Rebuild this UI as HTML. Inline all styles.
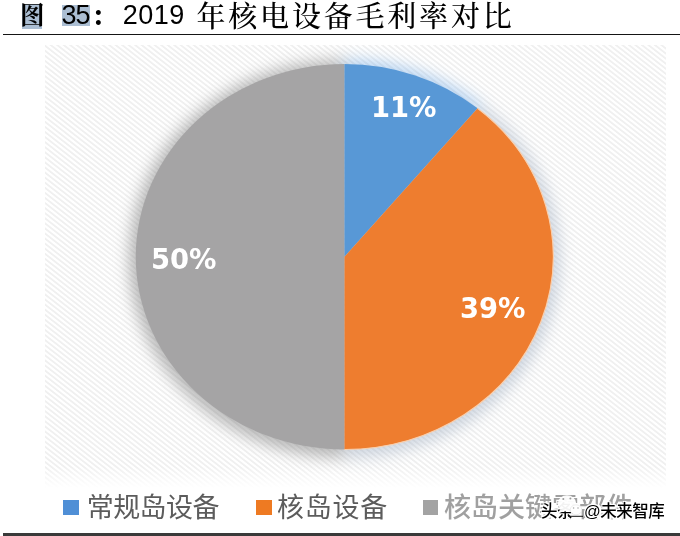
<!DOCTYPE html>
<html lang="zh-CN">
<head>
<meta charset="utf-8">
<title>图 35：2019 年核电设备毛利率对比</title>
<style>
html,body{margin:0;padding:0;background:#fff;}
body{width:680px;height:536px;position:relative;overflow:hidden;font-family:"Liberation Sans","Noto Sans CJK SC",sans-serif;}
.abs{position:absolute;white-space:nowrap;}
#title{left:0;top:0;height:34px;width:680px;}
#title span{position:absolute;top:-3px;line-height:36px;color:#000;white-space:nowrap;}
.kai{font-family:"Liberation Serif","Noto Serif CJK SC",serif;font-size:29px;font-weight:500;letter-spacing:2.8px;}
.num{font-family:"Liberation Sans",sans-serif;font-size:27px;}
.hl{background:#abbed3;}
#rule1{left:3px;top:33.6px;width:677px;height:1.6px;background:#151515;}
#rule2{left:3px;top:533px;width:677px;height:3px;background:#3a3a3a;}
#plot{left:45px;top:45px;width:621px;height:443px;
 background:
  linear-gradient(to bottom,rgba(255,255,255,0) 0,rgba(255,255,255,0) 422px,rgba(255,255,255,1) 443px),
  repeating-linear-gradient(38deg,#f0f0f0 0,#f0f0f0 1.1px,#fff 1.9px,#fff 3.3px,#f0f0f0 4px);}
#pie{left:0;top:0;}
.pct{font-family:"DejaVu Sans","Liberation Sans",sans-serif;font-weight:bold;font-size:28.5px;color:#fff;line-height:30px;transform-origin:0 0;transform:scaleX(.96);}
.leg{font-family:"Liberation Sans","Noto Sans CJK SC",sans-serif;font-size:27px;line-height:30px;color:#5c5c5c;top:493.3px;}
.sq{position:absolute;top:500px;height:14.5px;width:16px;}
#wm{left:541px;top:499px;font-family:"Liberation Sans","Noto Sans CJK SC",sans-serif;font-size:16.5px;line-height:24px;color:#000;letter-spacing:-.5px;font-weight:500;
 text-shadow:1px 1px 0 #fff,-1px -1px 0 #fff,1px -1px 0 #fff,-1px 1px 0 #fff,0 2px 1px #fff,2px 0 1px #fff,2px 2px 1px #fff,0 0 3px #fff;}
</style>
</head>
<body>
<div id="title" class="abs">
 <span class="kai hl" style="left:22px;top:3.7px;line-height:23.5px;height:25.5px;width:20.4px;letter-spacing:0;font-size:24.5px;font-weight:700;text-indent:-2px;">图</span>
 <span class="num hl" style="left:61.8px;top:4.7px;line-height:21px;height:21.8px;width:28.3px;letter-spacing:-1px;text-indent:-.3px;">35</span>
 <span class="kai" style="left:91.6px;top:-1.3px;font-weight:900;font-size:24px;">：</span>
 <span class="num" style="left:122.8px;top:-3px;letter-spacing:.5px;">2019</span>
 <span class="kai" style="left:196.5px;top:-1.5px;">年核电设备毛利率对比</span>
</div>
<div id="rule1" class="abs"></div>
<div id="plot" class="abs"></div>
<svg id="pie" class="abs" width="680" height="536" viewBox="0 0 680 536">
 <defs>
  <filter id="sh" x="-20%" y="-20%" width="140%" height="140%"><feGaussianBlur stdDeviation="7"/></filter>
  <clipPath id="cp"><rect x="45" y="45" width="621" height="443"/></clipPath>
 </defs>
 <g clip-path="url(#cp)">
 <g transform="translate(344.5 259) scale(1.033) translate(-344.5 -257)">
  <path filter="url(#sh)" opacity=".52" d="M344.5 256.75 L344.5 64 A208.75 192.75 0 0 0 344.5 449.5 Z" fill="#7d7d7d"/>
  <path filter="url(#sh)" opacity=".5" d="M344.5 256.75 L344.5 64 A208.75 192.75 0 0 1 477.6 108.3 Z" fill="#6aa6e4"/>
  <path filter="url(#sh)" opacity=".4" d="M344.5 256.75 L477.6 108.3 A208.75 192.75 0 0 1 344.5 449.5 Z" fill="#8a9db6"/>
 </g>
 </g>
 <path d="M344.5 256.75 L344.5 64 A208.75 192.75 0 0 0 344.5 449.5 Z" fill="#a5a4a5"/>
 <path d="M344.5 256.75 L344.5 64 A208.75 192.75 0 0 1 477.6 108.3 Z" fill="#5898d6"/>
 <path d="M344.5 256.75 L477.6 108.3 A208.75 192.75 0 0 1 344.5 449.5 Z" fill="#ee7d2f"/>
 <path d="M477.6 108.3 A208.75 192.75 0 0 1 344.5 449.5" fill="none" stroke="#f8cfae" stroke-width="1.2"/>
</svg>
<div class="abs pct" style="left:370.5px;top:93px;">11%</div>
<div class="abs pct" style="left:150.5px;top:245px;">50%</div>
<div class="abs pct" style="left:460px;top:293.7px;">39%</div>

<div class="sq" style="left:63px;background:#4f8fd6;"></div>
<div class="abs leg" style="left:86.7px;letter-spacing:-.55px;">常规岛设备</div>
<div class="sq" style="left:256px;background:#ee7a22;"></div>
<div class="abs leg" style="left:277px;letter-spacing:.75px;">核岛设备</div>
<div class="sq" style="left:423px;background:#a3a3a3;width:15px;"></div>
<div class="abs leg" style="left:444px;color:#a0a0a0;font-weight:500;">核岛关键零部件</div>


<div id="wm" class="abs">头条<span style="display:inline-block;width:11px"></span>@未来智库</div>
<svg class="abs" style="left:550px;top:488px;" width="40" height="36" viewBox="550 488 40 36">
 <ellipse cx="567" cy="503.5" rx="9.3" ry="8.3" fill="#fff" opacity=".95"/>
 <path d="M560 509 L558.5 513.5 L564 511 Z" fill="#fff" opacity=".95"/>
 <ellipse cx="576" cy="509.8" rx="5.8" ry="5" fill="#fff"/>
 <ellipse cx="576" cy="509.8" rx="5.8" ry="5" fill="none" stroke="#ddd" stroke-width=".5"/>
 <circle cx="563.3" cy="499" r="1" fill="#9a9a9a"/>
 <circle cx="570.4" cy="498.5" r="1" fill="#9a9a9a"/>
 <circle cx="573.6" cy="508" r=".8" fill="#aaa"/>
 <circle cx="578" cy="508" r=".8" fill="#aaa"/>
 <path d="M568 516.3 H583" stroke="#111" stroke-width="1"/>
</svg>
<div id="rule2" class="abs"></div>
</body>
</html>
